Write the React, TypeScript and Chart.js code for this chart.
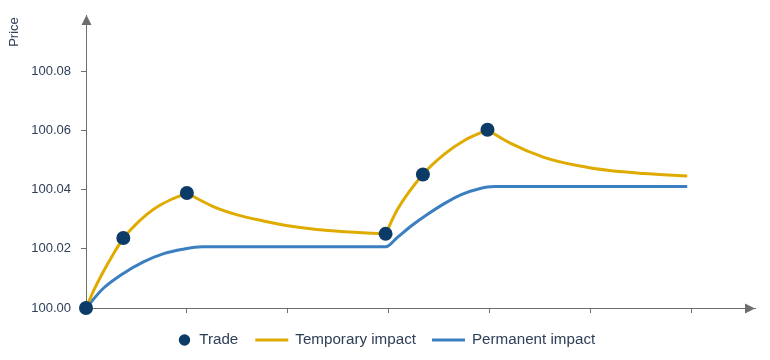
import { useEffect, useRef } from "react";
import { Chart, registerables } from "chart.js";

Chart.register(...registerables);

const FONT = '"Liberation Sans", Arial, Helvetica, sans-serif';

const tradeX = [0, 0.37, 1.0, 2.97, 3.34, 3.98];
const tradeY = [100.0, 100.0237, 100.0389, 100.0251, 100.0452, 100.0603];

// temporary impact: four decaying/rising segments, separated by null gaps
const temporaryX = [
  0, 0.08, 0.17, 0.27, 0.37, 0.48, 0.6, 0.72, 0.85, 1.0,
  1.0,
  1.0, 1.25, 1.5, 1.75, 2.0, 2.4, 2.97,
  2.97,
  2.97, 3.09, 3.34, 3.55, 3.75, 3.98,
  3.98,
  3.98, 4.21, 4.54, 4.87, 5.19, 5.53, 5.96,
];
const temporaryY = [
  100.0, 100.0062, 100.0122, 100.0182, 100.0236, 100.0278, 100.0316, 100.0345, 100.0368, 100.0389,
  null,
  100.0389, 100.0345, 100.0315, 100.0295, 100.0278, 100.0262, 100.0251,
  null,
  100.0251, 100.0335, 100.0452, 100.052, 100.0567, 100.0603,
  null,
  100.0603, 100.0557, 100.051, 100.0482, 100.0465, 100.0455, 100.0447,
];

const permanentX = [0, 0.17, 0.37, 0.57, 0.77, 0.96, 1.15, 2.97, 3.09, 3.23, 3.39, 3.56, 3.72, 3.89, 4.05, 5.96];
const permanentY = [
  100.0, 100.0066, 100.0117, 100.0156, 100.0184, 100.0199, 100.0207, 100.0207,
  100.024, 100.0279, 100.0318, 100.0355, 100.0384, 100.0403, 100.0411, 100.0411,
];

const yTickValues = [100.0, 100.02, 100.04, 100.06, 100.08];
const yTickLabels = ["100.00", "100.02", "100.04", "100.06", "100.08"];
const xTickValues = [0, 1, 2, 3, 4, 5, 6];

const legendLabels = ["Trade", "Temporary impact", "Permanent impact"];
const yAxisTitle = "Price";

const TRADE_COLOR = "#0c3b68";
const TEMP_COLOR = "#e0ab00";
const PERM_COLOR = "#3b7fc0";
const AXIS_COLOR = "#6e6e6e";
const TEXT_COLOR = "#2f4058";

const toPoints = (xs: number[], ys: (number | null)[]) => xs.map((x, i) => ({ x, y: ys[i] }));

const decorPlugin = {
  id: "decor",
  afterDraw(chart: any) {
    const { ctx, chartArea } = chart;
    const { left, right, top, bottom } = chartArea;
    ctx.save();
    // arrows
    ctx.fillStyle = AXIS_COLOR;
    const ax = Math.round(left) + 0.5;
    ctx.beginPath();
    ctx.moveTo(ax, top);
    ctx.lineTo(ax - 5, top + 10);
    ctx.lineTo(ax + 5, top + 10);
    ctx.closePath();
    ctx.fill();
    const ay = Math.round(bottom) + 0.5;
    ctx.beginPath();
    ctx.moveTo(right, ay);
    ctx.lineTo(right - 10, ay - 5);
    ctx.lineTo(right - 10, ay + 5);
    ctx.closePath();
    ctx.fill();

    // y-axis title
    ctx.save();
    ctx.translate(6, 24);
    ctx.rotate(-Math.PI / 2);
    ctx.font = `13px ${FONT}`;
    ctx.fillStyle = TEXT_COLOR;
    ctx.textAlign = "center";
    ctx.textBaseline = "middle";
    ctx.fillText(yAxisTitle, 0, 0);
    ctx.restore();

    // legend
    ctx.font = `15.2px ${FONT}`;
    ctx.textBaseline = "middle";
    ctx.textAlign = "left";
    const w = legendLabels.map((t) => ctx.measureText(t).width);
    const dot = 11.4;
    const line = 33;
    const total = dot + 9 + w[0] + 17 + line + 7 + w[1] + 16 + line + 7 + w[2];
    let x = 379 - total / 2;
    const ly = 332;
    ctx.fillStyle = TRADE_COLOR;
    ctx.beginPath();
    ctx.arc(x + dot / 2, ly, dot / 2, 0, Math.PI * 2);
    ctx.fill();
    x += dot + 9;
    ctx.fillStyle = TEXT_COLOR;
    ctx.fillText(legendLabels[0], x, ly);
    x += w[0] + 17;
    ctx.strokeStyle = TEMP_COLOR;
    ctx.lineWidth = 3;
    ctx.beginPath();
    ctx.moveTo(x, ly);
    ctx.lineTo(x + line, ly);
    ctx.stroke();
    x += line + 7;
    ctx.fillText(legendLabels[1], x, ly);
    x += w[1] + 16;
    ctx.strokeStyle = PERM_COLOR;
    ctx.beginPath();
    ctx.moveTo(x, ly);
    ctx.lineTo(x + line, ly);
    ctx.stroke();
    x += line + 7;
    ctx.fillText(legendLabels[2], x, ly);
    ctx.restore();
  },
};

export default function App() {
  const ref = useRef<HTMLCanvasElement | null>(null);
  useEffect(() => {
    if (!ref.current) return;
    const chart = new Chart(ref.current, {
      type: "line",
      data: {
        datasets: [
          {
            label: legendLabels[0],
            data: toPoints(tradeX, tradeY),
            showLine: false,
            pointRadius: 7,
            pointHoverRadius: 7,
            pointBackgroundColor: TRADE_COLOR,
            pointBorderWidth: 0,
            backgroundColor: TRADE_COLOR,
            borderColor: TRADE_COLOR,
            clip: false,
            order: 0,
          },
          {
            label: legendLabels[1],
            data: toPoints(temporaryX, temporaryY),
            borderColor: TEMP_COLOR,
            borderWidth: 3,
            pointRadius: 0,
            cubicInterpolationMode: "monotone",
            spanGaps: false,
            fill: false,
            clip: false,
            order: 1,
          },
          {
            label: legendLabels[2],
            data: toPoints(permanentX, permanentY),
            borderColor: PERM_COLOR,
            borderWidth: 3,
            pointRadius: 0,
            cubicInterpolationMode: "monotone",
            fill: false,
            clip: false,
            order: 2,
          },
        ],
      } as any,
      options: {
        responsive: false,
        animation: false,
        events: [],
        layout: { padding: { top: 6, right: 4, left: 0, bottom: 0 } },
        plugins: { legend: { display: false }, tooltip: { enabled: false } },
        scales: {
          x: {
            type: "linear",
            min: 0,
            max: 6.632,
            afterBuildTicks: (s: any) => {
              s.ticks = xTickValues.map((v) => ({ value: v }));
            },
            afterFit: (s: any) => {
              s.height = 44;
              s.paddingLeft = 0;
              s.paddingRight = 0;
              s.paddingTop = 0;
              s.paddingBottom = 0;
            },
            ticks: { display: false },
            grid: { drawOnChartArea: false, drawTicks: true, tickLength: 5, color: AXIS_COLOR },
            border: { display: true, color: AXIS_COLOR, width: 1 },
          },
          y: {
            type: "linear",
            min: 100,
            max: 100.09916,
            afterBuildTicks: (s: any) => {
              s.ticks = yTickValues.map((v) => ({ value: v }));
            },
            afterFit: (s: any) => {
              s.width = 78;
              s.paddingLeft = 0;
              s.paddingRight = 0;
              s.paddingTop = 0;
              s.paddingBottom = 0;
            },
            ticks: {
              padding: 10,
              color: TEXT_COLOR,
              font: { family: FONT, size: 13 },
              callback: (_v: any, i: number) => yTickLabels[i],
            },
            grid: { drawOnChartArea: false, drawTicks: true, tickLength: 5, color: AXIS_COLOR },
            border: { display: true, color: AXIS_COLOR, width: 1 },
          },
        },
      } as any,
      plugins: [decorPlugin],
    });
    return () => chart.destroy();
  }, []);
  return <canvas ref={ref} width={754} height={344} style={{ display: "block" }} />;
}
